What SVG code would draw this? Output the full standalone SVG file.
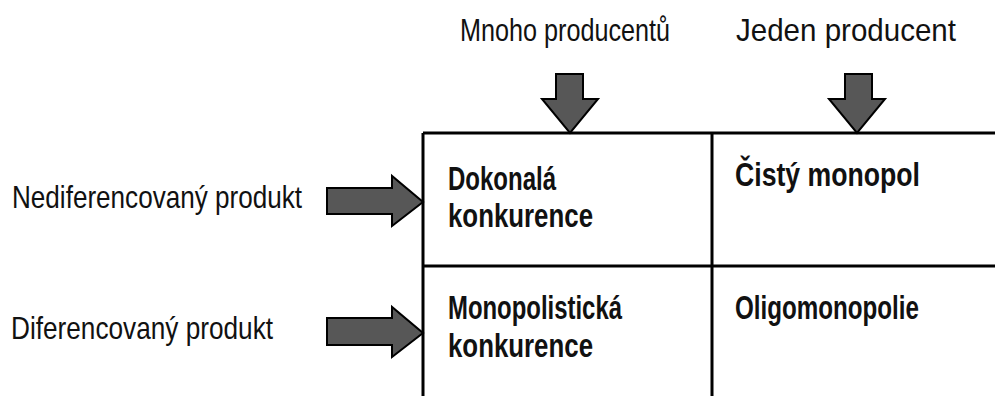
<svg xmlns="http://www.w3.org/2000/svg" width="995" height="396" viewBox="0 0 995 396">
<style>
.lbl{font-family:"Liberation Sans","Arial",sans-serif;font-size:32px;fill:#111}
.cell{font-family:"Liberation Sans","Arial",sans-serif;font-size:34px;font-weight:bold;fill:#111}
.grid{stroke:#000;stroke-width:3;fill:none}
.arr{fill:#575757;stroke:#000;stroke-width:2;stroke-linejoin:miter}
</style>
<rect width="995" height="396" fill="#fff"/>
<g id="grid">
<path class="grid" d="M423,133 H995 M423,266 H995 M423,133 V396 M712,133 V396"/>
</g>
<g id="connectors">
<path class="arr" d="M556,74 H583 V99 H598 L570,133 L542,99 H556 Z"/>
<path class="arr" d="M845,74 H872 V99 H885 L857,133 L829,99 H845 Z"/>
<path class="arr" d="M327,188 H392 V176 L423,202 L392,226 V214 H327 Z"/>
<path class="arr" d="M327,318 H392 V307 L423,333 L392,357 V345 H327 Z"/>
</g>
<g id="col-many"><text class="lbl" x="460" y="41" textLength="210" lengthAdjust="spacingAndGlyphs">Mnoho producentů</text></g>
<g id="col-one"><text class="lbl" x="736" y="41" textLength="220" lengthAdjust="spacingAndGlyphs">Jeden producent</text></g>
<g id="row-undiff"><text class="lbl" x="12" y="208" textLength="290" lengthAdjust="spacingAndGlyphs">Nediferencovaný produkt</text></g>
<g id="row-diff"><text class="lbl" x="11" y="339" textLength="262" lengthAdjust="spacingAndGlyphs">Diferencovaný produkt</text></g>
<g id="cell-perfect">
<text class="cell" x="448" y="190" textLength="108" lengthAdjust="spacingAndGlyphs">Dokonalá</text>
<text class="cell" x="448" y="227" textLength="145" lengthAdjust="spacingAndGlyphs">konkurence</text>
</g>
<g id="cell-monopoly"><text class="cell" x="735" y="186" textLength="185" lengthAdjust="spacingAndGlyphs">Čistý monopol</text></g>
<g id="cell-monopolistic">
<text class="cell" x="448" y="319" textLength="174" lengthAdjust="spacingAndGlyphs">Monopolistická</text>
<text class="cell" x="448" y="357" textLength="145" lengthAdjust="spacingAndGlyphs">konkurence</text>
</g>
<g id="cell-oligo"><text class="cell" x="735" y="319" textLength="184" lengthAdjust="spacingAndGlyphs" style="font-size:33px">Oligomonopolie</text></g>
</svg>
